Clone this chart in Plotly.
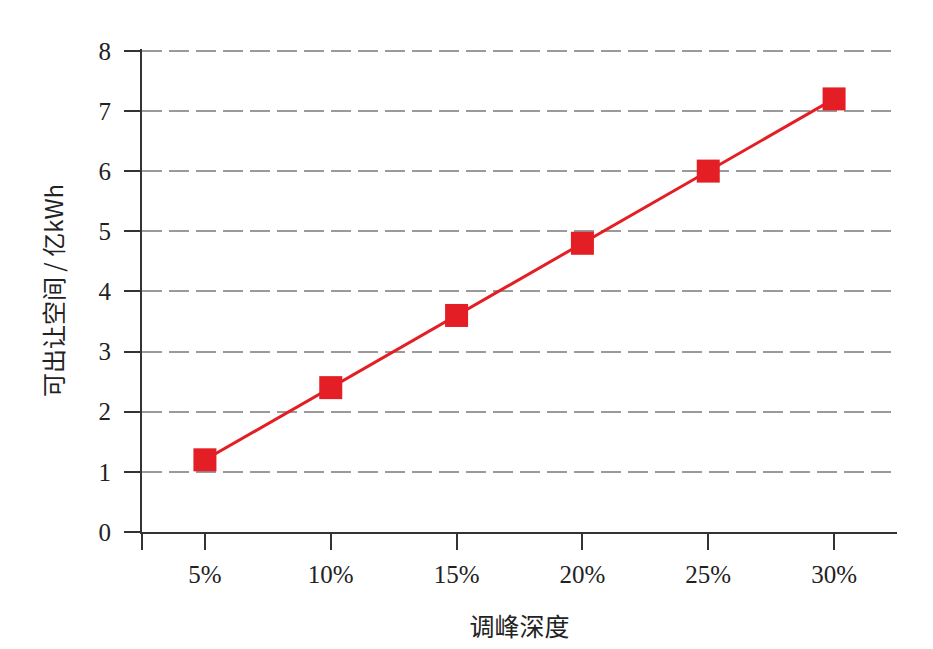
import plotly.graph_objects as go

depth = [5, 10, 15, 20, 25, 30]
depth_labels = ["5%", "10%", "15%", "20%", "25%", "30%"]
space = [1.2, 2.4, 3.6, 4.8, 6.0, 7.2]

fig = go.Figure()
fig.add_trace(go.Scatter(
    x=depth, y=space, mode="lines+markers",
    line=dict(color="#e31e24", width=3),
    marker=dict(symbol="square", size=23, color="#e31e24"),
    showlegend=False,
))

serif = "Liberation Serif, Times New Roman, serif"
fig.update_layout(
    width=933, height=649,
    margin=dict(l=134, r=44, t=41, b=125),
    paper_bgcolor="white", plot_bgcolor="white",
    font=dict(family=serif, size=25, color="#222"),
    xaxis=dict(
        range=[2.5, 32.5],
        tickvals=[2.5] + depth, ticktext=[""] + depth_labels,
        ticks="outside", ticklen=16, tickwidth=2, tickcolor="#333",
        ticklabelstandoff=3,
        showline=True, linecolor="#333", linewidth=2,
        showgrid=False, zeroline=False, automargin=False,
        title=dict(text="调峰深度", font=dict(family="Noto Sans CJK SC", size=25), standoff=31),
    ),
    yaxis=dict(
        range=[0, 8.03], tickvals=[0, 1, 2, 3, 4, 5, 6, 7, 8],
        ticks="outside", ticklen=16, tickwidth=2, tickcolor="#333",
        ticklabelstandoff=8,
        showline=True, linecolor="#333", linewidth=2,
        showgrid=True, gridcolor="#9a9a9a", gridwidth=2, griddash="20px,7px",
        zeroline=False, automargin=False,
        title=dict(text="可出让空间 / 亿kWh", font=dict(family="Noto Sans CJK SC", size=24), standoff=28),
    ),
)
fig.write_html("out.html")
